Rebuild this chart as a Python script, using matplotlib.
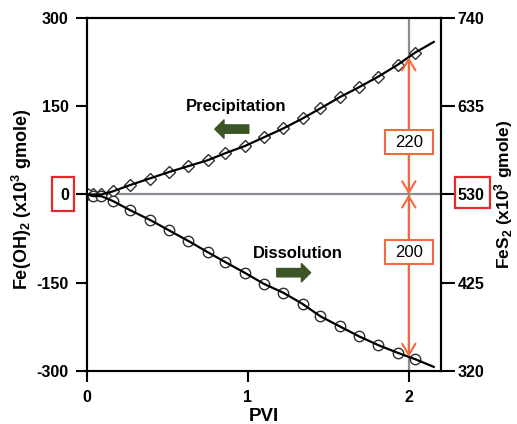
import numpy as np
import matplotlib
matplotlib.use('Agg')
import matplotlib.pyplot as plt
from matplotlib.patches import Rectangle

plt.rcParams['font.family'] = ['Liberation Sans', 'DejaVu Sans']
plt.rcParams['font.weight'] = 'bold'
plt.rcParams['axes.labelweight'] = 'bold'
plt.rcParams['axes.unicode_minus'] = False
plt.rcParams['mathtext.fontset'] = 'custom'
plt.rcParams['mathtext.rm'] = 'Liberation Sans:bold'
plt.rcParams['mathtext.it'] = 'Liberation Sans:bold'
plt.rcParams['mathtext.bf'] = 'Liberation Sans:bold'
plt.rcParams['mathtext.default'] = 'rm'

# PVI sample points (shared by both series)
pvi = [0, 0.04, 0.09, 0.16, 0.27, 0.39, 0.51, 0.63, 0.75, 0.86,
       0.98, 1.10, 1.22, 1.34, 1.45, 1.57, 1.69, 1.81, 1.93, 2.04]
# Fe(OH)2 change, x10^3 gmole
precip = [0, 0, 0, 5, 16, 27, 38, 48, 58, 70,
          82, 97, 112, 129, 146, 165, 182, 200, 220, 241]
dissol = [0, -3, -3, -11, -27, -43, -61, -79, -98, -115,
          -133, -152, -167, -186, -207, -224, -241, -256, -269, -280]
# fitted trend lines carry on a little past the last sample
fit_end_pvi = 2.155
precip_end = 259
dissol_end = -293

left_ticks = [-300, -150, 0, 150, 300]
right_ticks = [320, 425, 530, 635, 740]
x_ticks = [0, 1, 2]

# change markers at PVI = 2
mark_pvi = 2.0
mark_top = 233
mark_bottom = -276
mark_labels = ['220', '200']
mark_label_y = [89, -98]

grey = '#8c8c96'
orange = '#f26a3c'
red = '#e52a2e'
green = '#3b5524'

fig = plt.figure(figsize=(5.17, 4.24), dpi=100)
ax = fig.add_axes([0.168, 0.125, 0.685, 0.833])

ax.axhline(0, color=grey, lw=1.6, zorder=1)
ax.axvline(mark_pvi, color=grey, lw=1.6, zorder=1)

ax.plot(pvi, precip, ls='none', marker='D', ms=6.5, mfc='white',
        mec='#303030', mew=1.0, zorder=3)
ax.plot(pvi, dissol, ls='none', marker='o', ms=7.5, mfc='white',
        mec='#303030', mew=1.0, zorder=3)
ax.plot(pvi + [fit_end_pvi], precip + [precip_end], color='black', lw=1.6, zorder=4)
ax.plot(pvi + [fit_end_pvi], dissol + [dissol_end], color='black', lw=1.6, zorder=4)

arrow_style = '<->,head_length=0.5,head_width=0.3'
for y_end in [mark_top, mark_bottom]:
    ax.annotate('', xy=(mark_pvi, y_end), xytext=(mark_pvi, 0),
                arrowprops=dict(arrowstyle=arrow_style, color=orange, lw=1.5,
                                mutation_scale=16, shrinkA=0, shrinkB=0),
                zorder=5)
for lab, yl in zip(mark_labels, mark_label_y):
    ax.add_patch(Rectangle((mark_pvi - 0.149, yl - 21), 0.298, 42,
                           facecolor='white', edgecolor=orange, lw=1.5, zorder=6))
    ax.text(mark_pvi, yl, lab, ha='center', va='center', fontsize=12,
            fontweight='normal', zorder=7)

ax.text(0.925, 149, 'Precipitation', ha='center', va='center', fontsize=12)
ax.annotate('', xy=(0.795, 111), xytext=(1.006, 111),
            arrowprops=dict(arrowstyle='simple,head_length=0.55,head_width=1.1,tail_width=0.5',
                            color=green, mutation_scale=12, shrinkA=0, shrinkB=0))
ax.text(1.31, -101, 'Dissolution', ha='center', va='center', fontsize=12)
ax.annotate('', xy=(1.39, -133), xytext=(1.18, -133),
            arrowprops=dict(arrowstyle='simple,head_length=0.55,head_width=1.1,tail_width=0.5',
                            color=green, mutation_scale=12, shrinkA=0, shrinkB=0))

ax.set_xlim(0, 2.2)
ax.set_ylim(-300, 300)
ax.set_xticks(x_ticks)
ax.set_yticks(left_ticks)
ax.tick_params(axis='y', direction='out', length=8, width=1.5, pad=5, labelsize=11.5)
ax.tick_params(axis='x', direction='out', length=8, width=1.5, pad=6, labelsize=11.5)
for s in ax.spines.values():
    s.set_linewidth(1.5)

ax.set_xlabel('PVI', fontsize=13.5)
ax.xaxis.set_label_coords(0.5, -0.106)
ax.set_ylabel('Fe(OH)$_2$ (x10$^3$ gmole)', fontsize=13)
ax.yaxis.set_label_coords(-0.15, 0.487)

ax2 = ax.twinx()
ax2.set_ylim(320, 740)
ax2.set_yticks(right_ticks)
ax2.tick_params(axis='y', direction='out', length=10, width=1.5, pad=2, labelsize=11.5)
for s in ax2.spines.values():
    s.set_linewidth(1.5)
ax2.set_ylabel('FeS$_2$ (x10$^3$ gmole)', fontsize=12.5, rotation=90)
ax2.yaxis.set_label_coords(1.143, 0.5)

# boxes around the zero-level tick labels
fig.add_artist(Rectangle((52 / 517, 1 - 211 / 424), 22 / 517, 34 / 424,
                         transform=fig.transFigure, fill=False,
                         edgecolor=red, lw=1.6))
fig.add_artist(Rectangle((455 / 517, 1 - 208 / 424), 35 / 517, 31 / 424,
                         transform=fig.transFigure, fill=False,
                         edgecolor=red, lw=1.6))

fig.savefig('out.png', dpi=100)
